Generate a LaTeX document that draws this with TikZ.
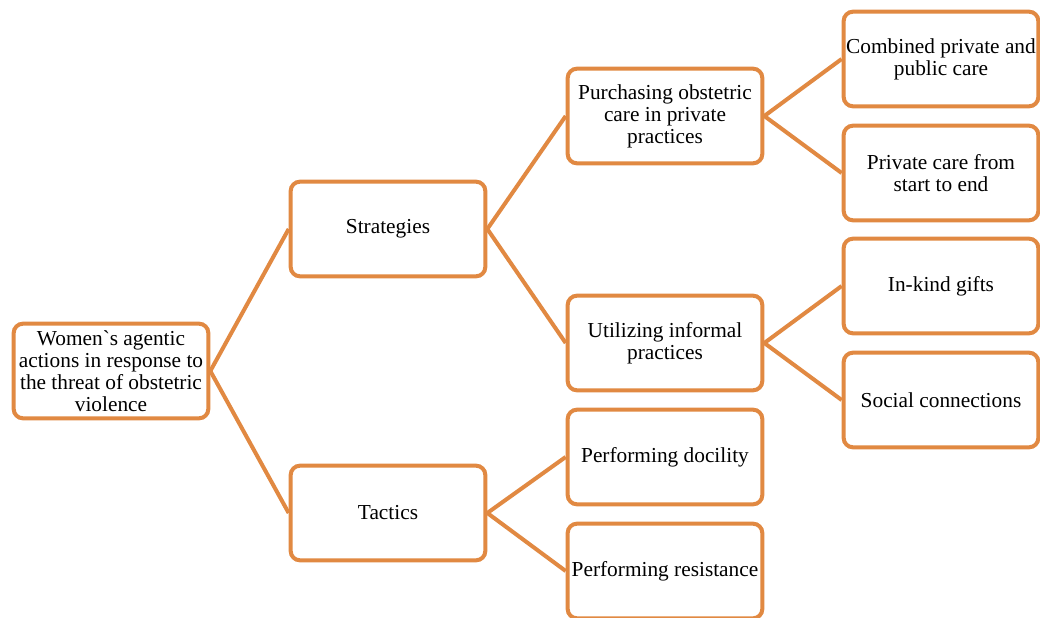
\documentclass[tikz,border=0pt]{standalone}
\usepackage{fontspec}
\setmainfont{Liberation Serif}
\newfontfamily\gravefont{Liberation Serif}
\definecolor{boxorange}{RGB}{225,137,66}

\begin{document}
\begin{tikzpicture}[x=0.75pt, y=-0.75pt,
    box/.style={draw=boxorange, line width=3pt, rounded corners=7pt, fill=white,
        minimum width=146pt, minimum height=71pt, align=center, inner sep=1pt,
        font=\fontsize{16}{16.5}\selectfont},
    link/.style={draw=boxorange, line width=3pt}]
    \useasboundingbox[fill=white] (0,0) rectangle (1040,618);

    % Root of the tree
    \node[box] (root) at (111,371) {Women{\gravefont`}s agentic\\actions in response to\\the threat of obstetric\\violence};

    % Second level
    \node[box] (strat) at (388,229) {Strategies};
    \node[box] (tact) at (388,513) {Tactics};

    % Third level
    \node[box] (purch) at (665,116) {Purchasing obstetric\\care in private\\practices};
    \node[box] (inform) at (665,343) {Utilizing informal\\practices};
    \node[box] (docil) at (665,457) {Performing docility};
    \node[box] (resist) at (665,571) {Performing resistance};

    % Fourth level
    \node[box] (combined) at (941,59) {Combined private and\\public care};
    \node[box] (private) at (941,173) {Private care from\\start to end};
    \node[box] (gifts) at (941,286) {In-kind gifts};
    \node[box] (social) at (941,400) {Social connections};

    % Connectors from each parent to its children
    \draw[link] (root.east) -- (strat.west);
    \draw[link] (root.east) -- (tact.west);
    \draw[link] (strat.east) -- (purch.west);
    \draw[link] (strat.east) -- (inform.west);
    \draw[link] (tact.east) -- (docil.west);
    \draw[link] (tact.east) -- (resist.west);
    \draw[link] (purch.east) -- (combined.west);
    \draw[link] (purch.east) -- (private.west);
    \draw[link] (inform.east) -- (gifts.west);
    \draw[link] (inform.east) -- (social.west);
\end{tikzpicture}
\end{document}
